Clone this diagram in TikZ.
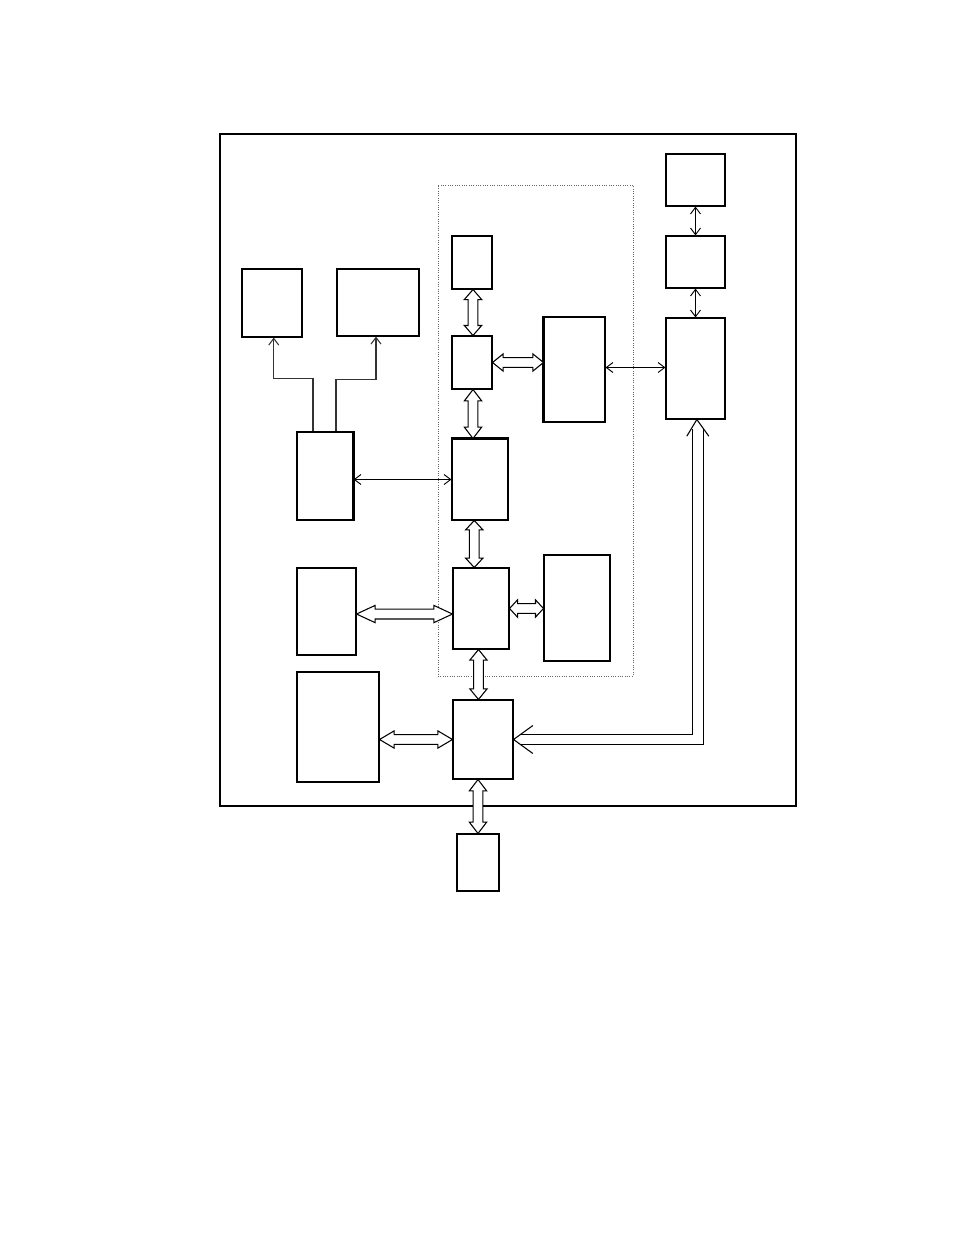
\documentclass[tikz,border=0pt]{standalone}
\usetikzlibrary{fit,calc,arrows.meta}
\tikzset{
  fhl/.store in=\fatHL, fhl=8pt,
  fhw/.store in=\fatHW, fhw=6.5pt,
  fsw/.store in=\fatSW, fsw=3.7pt,
  box/.style={draw, line width=0.8pt, inner sep=0pt, fill=white},
  frame/.style={draw, line width=0.8pt, inner sep=0pt},
  group/.style={draw=black!60, densely dotted, line width=0.75pt, inner sep=0pt},
  tarrow/.style={line width=0.7pt, {Straight Barb[length=5pt,width=7.5pt]}-{Straight Barb[length=5pt,width=7.5pt]}},
  tline/.style={line width=0.8pt, draw=black!80, -{Straight Barb[length=5pt,width=7.5pt]}},
  edge/.style={line width=1.5pt},
  dline/.style={line width=0.8pt, double=white, double distance=7pt},
  barb/.style={line width=0.8pt},
  fat/.style={draw, fill=white, line width=0.8pt, to path={
    let \p1=(\tikztostart), \p2=(\tikztotarget),
        \n1={atan2(\y2-\y1,\x2-\x1)}, \n2={veclen(\x2-\x1,\y2-\y1)} in
    ([shift={(\p1)},rotate=\n1]0pt,0pt)
    -- ([shift={(\p1)},rotate=\n1]\fatHL,\fatHW)
    -- ([shift={(\p1)},rotate=\n1]\fatHL,\fatSW)
    -- ([shift={(\p1)},rotate=\n1]{\n2-\fatHL},\fatSW)
    -- ([shift={(\p1)},rotate=\n1]{\n2-\fatHL},\fatHW)
    -- ([shift={(\p1)},rotate=\n1]\n2,0pt)
    -- ([shift={(\p1)},rotate=\n1]{\n2-\fatHL},-\fatHW)
    -- ([shift={(\p1)},rotate=\n1]{\n2-\fatHL},-\fatSW)
    -- ([shift={(\p1)},rotate=\n1]\fatHL,-\fatSW)
    -- ([shift={(\p1)},rotate=\n1]\fatHL,-\fatHW)
    -- cycle}}
}
\begin{document}
\begin{tikzpicture}[x=0.75pt,y=-0.75pt]
\useasboundingbox (0,0) rectangle (954,1235);
% frames
\node[frame, fit={(220,134)(796,806)}] (outer) {};
\node[group, fit={(438,185)(633,676)}] (grp) {};
% right column
\node[box, fit={(666,154)(725,206)}] (r1) {};
\node[box, fit={(666,236)(725,288)}] (r2) {};
\node[box, fit={(666,318)(725,419)}] (r3) {};
% inner group
\node[box, fit={(452,236)(492,289)}] (a) {};
\node[box, fit={(452,336)(492,389)}] (b) {};
\node[box, fit={(544,317)(605,422)}] (c) {};
\node[box, fit={(452,439)(508,520)}] (d) {};
\node[box, fit={(453,568)(509,649)}] (e) {};
\node[box, fit={(544,555)(610,661)}] (f) {};
% left column
\node[box, fit={(242,269)(302,337)}] (l1) {};
\node[box, fit={(337,269)(419,336)}] (l2) {};
\node[box, fit={(297,432)(353,520)}] (l3) {};
\node[box, fit={(297,568)(356,655)}] (g) {};
\node[box, fit={(297,672)(379,782)}] (h) {};
% bottom
\node[box, fit={(453,700)(513,779)}] (i) {};
\node[box, fit={(457,834)(499,891)}] (j) {};
% heavier edges
\draw[edge] (l3.north east) -- (l3.south east);
\draw[edge] (c.north west) -- (c.south west);
\draw[edge] (d.north west) -- (d.north east);
% fat double arrows
\path[fat, fhl=7.5pt] ([xshift=0.75pt]a.south) to ([xshift=0.75pt]a.south |- b.north);
\path[fat, fhl=8pt] (b.east) to (b.east -| c.west);
\path[fat, fhl=8.5pt] ([xshift=0.75pt]b.south) to ([xshift=0.75pt]b.south |- d.north);
\path[fat, fhl=7pt] ([xshift=-4.3pt]d.south) to ([xshift=-4.3pt]d.south |- e.north);
\path[fat, fhl=6pt] (e.east) to (e.east -| f.west);
\path[fat, fhl=14pt] ([yshift=-1.9pt]g.east) to ([yshift=-1.9pt]g.east -| e.west);
\path[fat, fhl=8pt] ([xshift=-1.9pt]e.south) to ([xshift=-1.9pt]e.south |- i.north);
\path[fat, fhl=11pt] (h.east |- i.west) to (i.west);
\path[fat, fhl=8.5pt] (i.south -| j.north) to (j.north);
% thin double arrows
\draw[tarrow] (l3.east |- d.west) -- (d.west);
\draw[tarrow] ([yshift=1.5pt]c.east) -- ([yshift=1.5pt]c.east -| r3.west);
\draw[tarrow] (r1.south) -- (r2.north);
\draw[tarrow] (r2.south) -- (r3.north);
% branching arrows from l3
\draw[tline] ([xshift=-9pt]l3.north) -- ++(0,-53) -| ([xshift=1.3pt]l1.south);
\draw[tline] ([xshift=8.25pt]l3.north) -- ++(0,-52) -| ([xshift=-1.5pt]l2.south);
% double-line connector between i and r3
\draw[dline] ([xshift=5pt]i.east) -| ([xshift=1.9pt,yshift=-7pt]r3.south);
\draw[barb] ([xshift=14.5pt,yshift=10.5pt]i.east) -- (i.east) -- ([xshift=14.5pt,yshift=-10.5pt]i.east);
\draw[barb] ([xshift=-6.5pt,yshift=-12.5pt]r3.south) -- ([xshift=1pt]r3.south) -- ([xshift=10pt,yshift=-12.5pt]r3.south);
\end{tikzpicture}
\end{document}
